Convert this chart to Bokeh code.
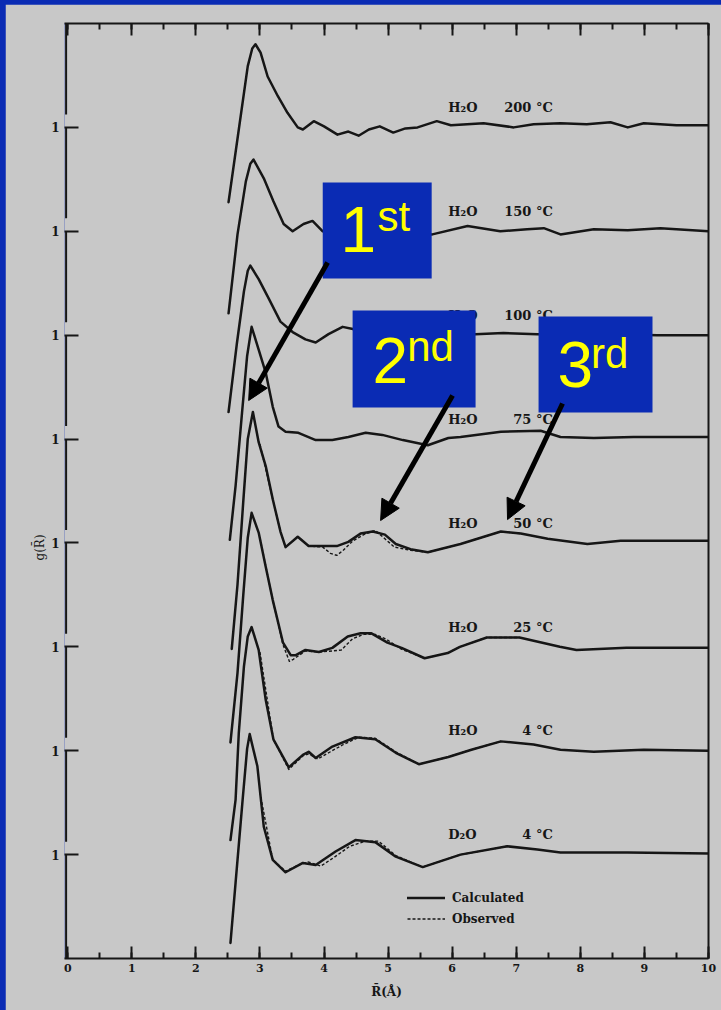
from bokeh.plotting import figure
from bokeh.models import (Range1d, LinearAxis, FixedTicker, SingleIntervalTicker,
                          CustomJSTickFormatter, Label, Arrow, NormalHead, Title,
                          BoxAnnotation, Legend, LegendItem, ColumnDataSource)
from bokeh.layouts import column
from bokeh.core.properties import value
from bokeh.embed import file_html
from bokeh.resources import INLINE

# ---------------- data ----------------
# g(R) curves, distance R in Angstrom; each curve is lifted by its offset
r_200 = [2.51, 2.67, 2.81, 2.88, 2.93, 3.01, 3.12, 3.28, 3.43, 3.59, 3.67, 3.84, 4.00, 4.21, 4.38,
         4.54, 4.70, 4.87, 5.08, 5.27, 5.46, 5.76, 5.98, 6.49, 6.96, 7.27, 7.69, 8.10, 8.47, 8.74,
         8.99, 9.50, 10.0]
g_200 = [0.28, 0.98, 1.59, 1.76, 1.80, 1.72, 1.49, 1.30, 1.14, 1.00, 0.98, 1.06, 1.01, 0.93, 0.96,
         0.92, 0.98, 1.01, 0.95, 0.99, 1.00, 1.06, 1.02, 1.04, 1.00, 1.03, 1.04, 1.03, 1.05, 1.00,
         1.04, 1.02, 1.02]

r_150 = [2.51, 2.65, 2.78, 2.85, 2.90, 3.06, 3.21, 3.37, 3.51, 3.68, 3.82, 3.98, 4.30, 4.70, 5.10,
         5.40, 5.69, 6.24, 6.75, 7.17, 7.43, 7.69, 8.21, 8.74, 9.25, 10.0]
g_150 = [0.21, 0.97, 1.48, 1.65, 1.69, 1.51, 1.29, 1.07, 1.00, 1.07, 1.10, 1.00, 0.96, 0.99, 1.00,
         0.98, 0.97, 1.05, 1.00, 1.02, 1.03, 0.97, 1.02, 1.01, 1.03, 1.00]

r_100 = [2.51, 2.64, 2.75, 2.81, 2.85, 2.98, 3.14, 3.32, 3.51, 3.71, 3.87, 4.07, 4.29, 4.45, 4.80,
         5.30, 5.80, 6.36, 6.80, 7.33, 8.00, 8.60, 9.20, 10.0]
g_100 = [0.26, 0.92, 1.42, 1.62, 1.67, 1.54, 1.35, 1.13, 1.03, 0.96, 0.93, 1.01, 1.08, 1.06, 1.00,
         0.96, 0.98, 1.01, 1.02, 1.01, 1.00, 1.01, 1.00, 1.00]

r_75 = [2.53, 2.62, 2.72, 2.80, 2.87, 2.98, 3.09, 3.20, 3.29, 3.40, 3.60, 3.87, 4.13, 4.38, 4.65,
        4.91, 5.23, 5.62, 5.94, 6.13, 6.76, 7.38, 7.69, 8.21, 8.83, 9.52, 10.0]
g_75 = [0.03, 0.55, 1.25, 1.80, 2.08, 1.86, 1.64, 1.31, 1.12, 1.07, 1.06, 0.99, 0.99, 1.02, 1.06,
        1.04, 0.99, 0.94, 1.01, 1.02, 1.07, 1.08, 1.02, 1.01, 1.02, 1.02, 1.02]

r_50 = [2.56, 2.65, 2.74, 2.81, 2.89, 2.98, 3.09, 3.20, 3.32, 3.40, 3.59, 3.76, 3.98, 4.20, 4.38,
        4.57, 4.76, 4.95, 5.12, 5.35, 5.62, 6.13, 6.76, 7.07, 7.49, 8.11, 8.63, 10.0]
g_50 = [-0.02, 0.60, 1.40, 2.00, 2.26, 1.97, 1.74, 1.42, 1.11, 0.96, 1.06, 0.97, 0.97, 0.97, 1.01,
        1.09, 1.11, 1.08, 0.99, 0.94, 0.91, 0.99, 1.11, 1.09, 1.04, 0.99, 1.02, 1.02]
r_50_obs = [3.00, 3.20, 3.32, 3.40, 3.59, 3.76, 3.98, 4.10, 4.20, 4.30, 4.45, 4.62, 4.80, 4.95, 5.10,
            5.35, 5.62, 6.13, 6.76, 7.07, 7.49]
g_50_obs = [1.95, 1.42, 1.11, 0.96, 1.06, 0.97, 0.96, 0.90, 0.88, 0.93, 1.02, 1.08, 1.12, 1.04, 0.96,
            0.93, 0.91, 0.99, 1.11, 1.09, 1.04]

r_25 = [2.54, 2.65, 2.74, 2.81, 2.87, 2.98, 3.09, 3.20, 3.36, 3.48, 3.56, 3.71, 3.92, 4.13, 4.37,
        4.57, 4.74, 4.99, 5.21, 5.57, 5.93, 6.12, 6.54, 7.05, 7.68, 7.94, 8.72, 10.0]
g_25 = [0.08, 0.75, 1.50, 2.05, 2.29, 2.10, 1.77, 1.45, 1.04, 0.92, 0.92, 0.97, 0.95, 0.99, 1.10,
        1.13, 1.13, 1.04, 0.99, 0.89, 0.94, 1.00, 1.09, 1.09, 1.00, 0.97, 0.99, 0.99]
r_25_obs = [3.00, 3.20, 3.36, 3.46, 3.52, 3.71, 3.92, 4.13, 4.27, 4.45, 4.62, 4.80, 4.98, 5.08, 5.20,
            5.57, 5.93, 6.12, 6.54, 7.05]
g_25_obs = [2.05, 1.45, 1.02, 0.86, 0.88, 0.96, 0.95, 0.96, 0.97, 1.08, 1.12, 1.12, 1.07, 1.03, 0.98,
            0.89, 0.94, 1.00, 1.09, 1.09]

r_4 = [2.54, 2.62, 2.67, 2.75, 2.81, 2.87, 2.98, 3.09, 3.21, 3.45, 3.67, 3.76, 3.87, 4.13, 4.49,
       4.80, 5.12, 5.48, 5.94, 6.30, 6.76, 7.27, 7.69, 8.21, 8.99, 10.0]
g_4 = [0.14, 0.53, 1.17, 1.81, 2.10, 2.19, 1.97, 1.49, 1.11, 0.84, 0.96, 0.99, 0.93, 1.04, 1.13,
       1.11, 0.98, 0.87, 0.94, 1.01, 1.09, 1.06, 1.01, 0.99, 1.01, 1.00]
r_4_obs = [3.00, 3.21, 3.45, 3.67, 3.76, 3.90, 4.10, 4.30, 4.55, 4.80, 5.12, 5.48, 5.94, 6.30, 6.76]
g_4_obs = [1.95, 1.11, 0.82, 0.95, 0.97, 0.92, 0.99, 1.06, 1.13, 1.12, 0.99, 0.87, 0.94, 1.01, 1.09]

r_d2o = [2.54, 2.62, 2.73, 2.80, 2.84, 2.96, 3.06, 3.20, 3.40, 3.67, 3.87, 4.18, 4.49, 4.80, 5.12,
         5.54, 6.13, 6.86, 7.33, 7.69, 8.74, 10.0]
g_d2o = [0.15, 0.73, 1.53, 2.02, 2.16, 1.85, 1.27, 0.95, 0.83, 0.92, 0.90, 1.03, 1.14, 1.12, 0.98,
         0.88, 1.00, 1.08, 1.05, 1.02, 1.02, 1.01]
r_d2o_obs = [3.00, 3.20, 3.40, 3.60, 3.75, 3.95, 4.15, 4.40, 4.65, 4.85, 5.12, 5.54, 6.13, 6.86]
g_d2o_obs = [1.60, 0.95, 0.84, 0.90, 0.93, 0.89, 0.97, 1.08, 1.13, 1.13, 0.99, 0.88, 1.00, 1.08]

species = ["D\u2082O", "H\u2082O", "H\u2082O", "H\u2082O", "H\u2082O", "H\u2082O", "H\u2082O", "H\u2082O"]
temps = ["4 \u00b0C", "4 \u00b0C", "25 \u00b0C", "50 \u00b0C", "75 \u00b0C", "100 \u00b0C", "150 \u00b0C", "200 \u00b0C"]
offsets = [0, 1, 2, 3, 4, 5, 6, 7]
calc_r = [r_d2o, r_4, r_25, r_50, r_75, r_100, r_150, r_200]
calc_g = [g_d2o, g_4, g_25, g_50, g_75, g_100, g_150, g_200]
obs_r = [r_d2o_obs, r_4_obs, r_25_obs, r_50_obs, None, None, None, None]
obs_g = [g_d2o_obs, g_4_obs, g_25_obs, g_50_obs, None, None, None, None]

x_ticks_interval = 1
y_axis_label = "g(R\u0304)"
x_axis_label = "R\u0304(\u00c5)"
legend_labels = ["Calculated", "Observed"]

# ---------------- styling ----------------
BLUE = "#0a2bb4"
PAPER = "#c8c8c8"
INK = "#161616"
YELLOW = "#ffff00"
SERIF = "DejaVu Serif"
SANS = "Liberation Sans"

p = figure(width=716, height=1006,
           x_range=Range1d(-0.05, 10.0), y_range=Range1d(0.0, 9.0),
           output_backend="svg", toolbar_location=None, tools="",
           min_border_left=59, min_border_right=13, min_border_top=19, min_border_bottom=52)
p.background_fill_color = PAPER
p.border_fill_color = PAPER
p.outline_line_color = None
p.grid.visible = False

# bottom axis
xa = p.xaxis[0]
xa.ticker = SingleIntervalTicker(interval=x_ticks_interval, num_minor_ticks=2)
xa.axis_line_width = 2
xa.axis_line_color = INK
xa.major_tick_in = 12
xa.major_tick_out = 0
xa.minor_tick_in = 6
xa.minor_tick_out = 0
xa.major_tick_line_width = 2
xa.minor_tick_line_width = 2
xa.major_tick_line_color = INK
xa.minor_tick_line_color = INK
xa.major_label_standoff = 5
xa.major_label_text_font = SERIF
xa.major_label_text_font_style = "bold"
xa.major_label_text_font_size = "11px"
xa.major_label_text_color = INK
xa.axis_label = x_axis_label
xa.axis_label_standoff = 10
xa.axis_label_text_font = SERIF
xa.axis_label_text_font_style = "bold"
xa.axis_label_text_font_size = "12px"
xa.axis_label_text_color = INK

# top axis (ticks only)
top = LinearAxis(ticker=SingleIntervalTicker(interval=x_ticks_interval, num_minor_ticks=2),
                 formatter=CustomJSTickFormatter(code="return ''"))
top.axis_line_width = 2
top.axis_line_color = INK
top.major_tick_in = 12
top.major_tick_out = 0
top.minor_tick_in = 6
top.minor_tick_out = 0
top.major_tick_line_width = 2
top.minor_tick_line_width = 2
top.major_tick_line_color = INK
top.minor_tick_line_color = INK
top.major_label_text_font_size = "1px"
top.major_label_standoff = 0
p.add_layout(top, "above")

# right axis (line only)
right = LinearAxis(ticker=FixedTicker(ticks=[]))
right.axis_line_width = 2
right.axis_line_color = INK
right.major_tick_in = 0
right.major_tick_out = 0
right.minor_tick_in = 0
right.minor_tick_out = 0
p.add_layout(right, "right")

# left axis: one "1" tick at every curve baseline
baselines = [k + 1 for k in offsets]
ya = p.yaxis[0]
ya.ticker = FixedTicker(ticks=baselines)
ya.formatter = CustomJSTickFormatter(code="return '1'")
ya.axis_line_color = None
ya.major_tick_in = 14
ya.major_tick_out = 0
ya.minor_tick_in = 0
ya.minor_tick_out = 0
ya.major_tick_line_width = 2
ya.major_tick_line_color = INK
ya.major_label_standoff = 5
ya.major_label_text_font = SERIF
ya.major_label_text_font_style = "bold"
ya.major_label_text_font_size = "12px"
ya.major_label_text_color = INK

# y title as a side title, so that it can sit level with the 50 degC curve
p.add_layout(Title(text=y_axis_label, align="left", offset=398, standoff=4,
                   text_font=SERIF, text_font_style="normal", text_font_size="12px",
                   text_color=INK), "left")

# broken left spine: a small gap just above every baseline tick
GAP = 0.125
SPINE_X = -0.025
seg_top = [p.y_range.end] + baselines[::-1]
seg_bot = [b + GAP for b in baselines[::-1]] + [p.y_range.start]
p.segment(x0=[SPINE_X] * len(seg_top), y0=seg_top, x1=[SPINE_X] * len(seg_top), y1=seg_bot,
          line_color=INK, line_width=2)

# curves
calc_renderers = []
obs_renderers = []
for k, rr, gg, ro, go in zip(offsets, calc_r, calc_g, obs_r, obs_g):
    src = ColumnDataSource(dict(r=rr, y=[v + k for v in gg]))
    calc_renderers.append(p.line("r", "y", source=src, line_color=INK, line_width=2.5,
                                 line_join="round", line_cap="round"))
    if ro is not None:
        so = ColumnDataSource(dict(r=ro, y=[v + k for v in go]))
        obs_renderers.append(p.line("r", "y", source=so, line_color=INK, line_width=1.4,
                                    line_dash="3 2", line_join="round"))

# curve labels
LABEL_X_SPECIES = 5.94
LABEL_X_TEMP = 7.57
LABEL_DY = 0.19
lab_y = [k + 1 + LABEL_DY for k in offsets]
p.text(x=[LABEL_X_SPECIES] * len(lab_y), y=lab_y, text=species,
       text_font=value(SERIF), text_font_style="bold", text_font_size="13px",
       text_color=INK, text_baseline="alphabetic", text_align="left")
p.text(x=[LABEL_X_TEMP] * len(lab_y), y=lab_y, text=temps,
       text_font=value(SERIF), text_font_style="bold", text_font_size="13px",
       text_color=INK, text_baseline="alphabetic", text_align="right")

# legend
legend = Legend(items=[LegendItem(label=legend_labels[0], renderers=[calc_renderers[0]]),
                       LegendItem(label=legend_labels[1], renderers=[obs_renderers[0]])],
                location=(343, 29), glyph_width=38, glyph_height=21, label_height=21,
                spacing=0, padding=0, margin=0, label_standoff=7,
                background_fill_alpha=0, border_line_color=None,
                label_text_font=SERIF, label_text_font_style="bold",
                label_text_font_size="12px", label_text_color=INK)
p.add_layout(legend)

# annotation boxes: (left, right, bottom, top, big text, small text, positions)
boxes = [
    dict(l=3.98, r=5.68, b=6.545, t=7.47, big="1", small="st",
         bx=4.259, by=7.015, sx=4.836, sy=7.138),
    dict(l=4.446, r=6.365, b=5.303, t=6.237, big="2", small="nd",
         bx=4.758, by=5.754, sx=5.298, sy=5.887),
    dict(l=7.348, r=9.126, b=5.255, t=6.179, big="3", small="rd",
         bx=7.644, by=5.716, sx=8.168, sy=5.819),
]
arrows = [
    dict(x0=4.056, y0=6.699, x1=2.824, y1=5.371),
    dict(x0=6.006, y0=5.419, x1=4.883, y1=4.216),
    dict(x0=7.722, y0=5.342, x1=6.864, y1=4.225),
]
for bx in boxes:
    p.add_layout(BoxAnnotation(left=bx["l"], right=bx["r"], bottom=bx["b"], top=bx["t"],
                               fill_color=BLUE, fill_alpha=1.0, line_color=None))
    p.add_layout(Label(x=bx["bx"], y=bx["by"], text=bx["big"], text_font=SANS,
                       text_font_size="64px", text_color=YELLOW,
                       text_baseline="alphabetic", text_align="left"))
    p.add_layout(Label(x=bx["sx"], y=bx["sy"], text=bx["small"], text_font=SANS,
                       text_font_size="42px", text_color=YELLOW,
                       text_baseline="alphabetic", text_align="left"))
for a in arrows:
    p.add_layout(Arrow(x_start=a["x0"], y_start=a["y0"], x_end=a["x1"], y_end=a["y1"],
                       line_color="black", line_width=5,
                       end=NormalHead(size=20, fill_color="black", line_color="black")))

p.margin = (4, 0, 0, 5)
layout = column(p, styles={"background-color": BLUE})

open("out.html", "w").write(file_html(layout, INLINE))
